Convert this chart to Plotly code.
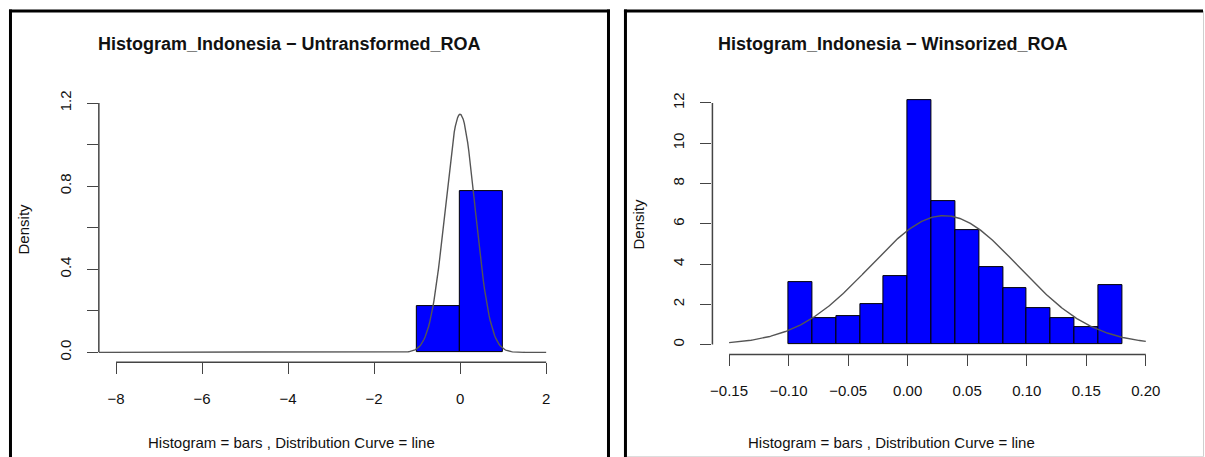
import numpy as np
import plotly.graph_objects as go

W, H = 1205, 457

# ---------------- data ----------------
# Left panel: Untransformed ROA
left_edges = [-1.0, 0.0, 1.0]
left_density = [0.224, 0.776]
left_mean, left_sd = 0.0, 0.348
left_curve_from, left_curve_to = -8.4, 2.0
left_xticks = [-8, -6, -4, -2, 0, 2]
left_yticks = [0.0, 0.2, 0.4, 0.6, 0.8, 1.0, 1.2]
left_ytext = ["0.0", "", "0.4", "", "0.8", "", "1.2"]

# Right panel: Winsorized ROA
right_edges = [-0.10, -0.08, -0.06, -0.04, -0.02, 0.00, 0.02, 0.04, 0.06,
               0.08, 0.10, 0.12, 0.14, 0.16, 0.18]
right_density = [3.12, 1.32, 1.41, 2.02, 3.38, 12.15, 7.10, 5.67, 3.85,
                 2.81, 1.81, 1.30, 0.87, 2.97]
right_mean, right_sd = 0.0307, 0.0623
right_curve_from, right_curve_to = -0.15, 0.20
right_xticks = [-0.15, -0.10, -0.05, 0.00, 0.05, 0.10, 0.15, 0.20]
right_xtext = ["\u22120.15", "\u22120.10", "\u22120.05", "0.00", "0.05", "0.10", "0.15", "0.20"]
right_yticks = [0, 2, 4, 6, 8, 10, 12]

titles = ["Histogram_Indonesia \u2212 Untransformed_ROA",
          "Histogram_Indonesia \u2212 Winsorized_ROA"]
subtitle = "Histogram = bars , Distribution Curve = line"
ylabel = "Density"

# ---------------- layout helpers ----------------
FONT = "Liberation Sans, Arial, sans-serif"
AX = "#444444"


def px_x(p):
    return p / W


def px_y(p):
    return 1 - p / H


def centers(edges):
    return [(a + b) / 2 for a, b in zip(edges[:-1], edges[1:])]


def widths(edges):
    return [b - a for a, b in zip(edges[:-1], edges[1:])]


def normal_curve(mu, sd, a, b):
    x = np.linspace(a, b, 400)
    y = np.exp(-0.5 * ((x - mu) / sd) ** 2) / (sd * np.sqrt(2 * np.pi))
    return x, y


fig = go.Figure()

# left bars + curve
fig.add_trace(go.Bar(x=centers(left_edges), y=left_density, width=widths(left_edges),
                     marker=dict(color="#0000FF", line=dict(color="#000000", width=1)),
                     xaxis="x", yaxis="y", showlegend=False, hoverinfo="skip"))
lx, ly = normal_curve(left_mean, left_sd, left_curve_from, left_curve_to)
fig.add_trace(go.Scatter(x=lx, y=ly, mode="lines", line=dict(color="#555555", width=1.4),
                         xaxis="x", yaxis="y", showlegend=False, hoverinfo="skip"))

# right bars + curve
fig.add_trace(go.Bar(x=centers(right_edges), y=right_density, width=widths(right_edges),
                     marker=dict(color="#0000FF", line=dict(color="#000000", width=1)),
                     xaxis="x2", yaxis="y2", showlegend=False, hoverinfo="skip"))
rx, ry = normal_curve(right_mean, right_sd, right_curve_from, right_curve_to)
fig.add_trace(go.Scatter(x=rx, y=ry, mode="lines", line=dict(color="#555555", width=1.4),
                         xaxis="x2", yaxis="y2", showlegend=False, hoverinfo="skip"))

tickfont = dict(family=FONT, size=15, color="#111111")
common_axis = dict(showgrid=False, zeroline=False, showline=False, ticks="outside",
                   ticklen=11, tickwidth=1.4, tickcolor=AX, tickfont=tickfont, fixedrange=True)

# left ranges (R style 4% extension)
lxr = [left_xticks[0] - 0.04 * (left_xticks[-1] - left_xticks[0]),
       left_xticks[-1] + 0.04 * (left_xticks[-1] - left_xticks[0])]
lyr = [left_yticks[0] - 0.04 * (left_yticks[-1] - left_yticks[0]),
       left_yticks[-1] + 0.04 * (left_yticks[-1] - left_yticks[0])]
rxr = [right_xticks[0] - 0.04 * (right_xticks[-1] - right_xticks[0]),
       right_xticks[-1] + 0.04 * (right_xticks[-1] - right_xticks[0])]
rymax = max(right_density)
ryr = [-0.04 * rymax, rymax * 1.04]

fig.update_layout(
    width=W, height=H, margin=dict(l=0, r=0, t=0, b=0),
    paper_bgcolor="white", plot_bgcolor="rgba(0,0,0,0)",
    bargap=0,
    xaxis=dict(domain=[px_x(97), px_x(562.3)], range=lxr, tickvals=left_xticks,
               ticktext=["\u2212" + str(abs(v)) if v < 0 else str(v) for v in left_xticks],
               anchor="y", ticklabelstandoff=12, **common_axis),
    yaxis=dict(domain=[px_y(361.7), px_y(90.7)], range=lyr, tickvals=left_yticks,
               ticktext=left_ytext, tickangle=-90, anchor="x", ticklabelstandoff=10,
               **common_axis),
    xaxis2=dict(domain=[px_x(711.6), px_x(1162.4)], range=rxr, tickvals=right_xticks,
                ticktext=right_xtext, anchor="y2", ticklabelstandoff=12, **common_axis),
    yaxis2=dict(domain=[px_y(353.7), px_y(87.7)], range=ryr, tickvals=right_yticks,
                tickangle=-90, anchor="x2", ticklabelstandoff=10, **common_axis),
)

shapes = []
# R-style axis lines spanning only the tick range
shapes.append(dict(type="line", xref="x", yref="y domain", x0=left_xticks[0], x1=left_xticks[-1],
                   y0=0, y1=0, line=dict(color=AX, width=1.5)))
shapes.append(dict(type="line", xref="x domain", yref="y", x0=0, x1=0, y0=left_yticks[0],
                   y1=left_yticks[-1], line=dict(color=AX, width=1.5)))
shapes.append(dict(type="line", xref="x2", yref="y2 domain", x0=right_xticks[0], x1=right_xticks[-1],
                   y0=0, y1=0, line=dict(color=AX, width=1.5)))
shapes.append(dict(type="line", xref="x2 domain", yref="y2", x0=0, x1=0, y0=right_yticks[0],
                   y1=right_yticks[-1], line=dict(color=AX, width=1.5)))

# panel frames
def vline(x, y0, y1, color="#000000", w=3):
    shapes.append(dict(type="line", xref="paper", yref="paper", x0=px_x(x), x1=px_x(x),
                       y0=px_y(y0), y1=px_y(y1), line=dict(color=color, width=w)))


def hline(y, x0, x1, color="#000000", w=3):
    shapes.append(dict(type="line", xref="paper", yref="paper", x0=px_x(x0), x1=px_x(x1),
                       y0=px_y(y), y1=px_y(y), line=dict(color=color, width=w)))


vline(8.5, 6.5, 460)
vline(607.5, 6.5, 460)
hline(8, 7, 609)
vline(624.5, 6.5, 460)
hline(8, 623, 1203)
vline(1203.5, 8, 457, color="#cfcfcf", w=1)
hline(456.5, 626, 1204, color="#dddddd", w=1)

fig.update_layout(shapes=shapes)

ann = []
for cx, t in zip([288, 891.5], titles):
    ann.append(dict(text="<b>" + t + "</b>", x=px_x(cx), y=px_y(41), xref="paper", yref="paper",
                    showarrow=False, xanchor="center", yanchor="middle",
                    font=dict(family=FONT, size=18, color="#111111")))
for cx in [290, 891]:
    ann.append(dict(text=subtitle, x=px_x(cx), y=px_y(442), xref="paper", yref="paper",
                    showarrow=False, xanchor="center", yanchor="middle",
                    font=dict(family=FONT, size=15, color="#111111")))
for cx, cy in [(22, 227), (638, 222)]:
    ann.append(dict(text=ylabel, x=px_x(cx), y=px_y(cy), xref="paper", yref="paper",
                    showarrow=False, xanchor="center", yanchor="middle", textangle=-90,
                    font=dict(family=FONT, size=15, color="#111111")))
fig.update_layout(annotations=ann)

fig.write_html("out.html", config={"displayModeBar": False})
